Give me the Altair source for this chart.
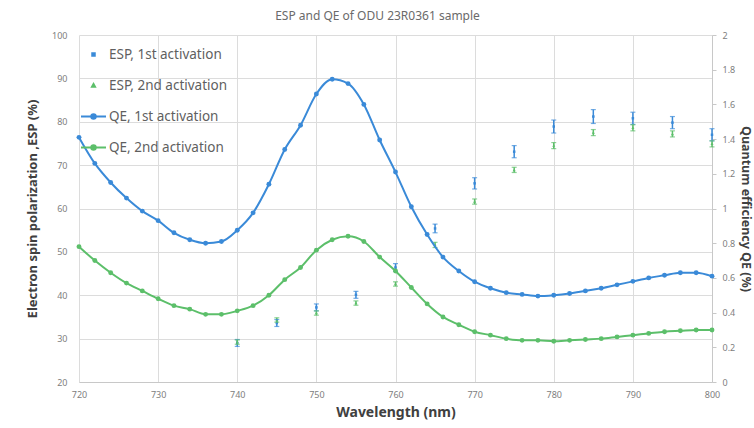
import altair as alt
import pandas as pd

# ---- data ----
qe_wl = [720, 722, 724, 726, 728, 730, 732, 734, 736, 738, 740, 742, 744, 746, 748, 750,
         752, 754, 756, 758, 760, 762, 764, 766, 768, 770, 772, 774, 776, 778, 780, 782,
         784, 786, 788, 790, 792, 794, 796, 798, 800]
qe_1st = [1.41, 1.26, 1.15, 1.06, 0.985, 0.93, 0.86, 0.82, 0.80, 0.81, 0.875, 0.975, 1.14,
          1.34, 1.48, 1.66, 1.745, 1.72, 1.60, 1.395, 1.21, 1.01, 0.85, 0.72, 0.64, 0.578,
          0.54, 0.515, 0.505, 0.495, 0.50, 0.51, 0.525, 0.54, 0.56, 0.58, 0.60, 0.615, 0.63,
          0.63, 0.61]
qe_2nd = [0.78, 0.70, 0.63, 0.57, 0.525, 0.48, 0.44, 0.42, 0.39, 0.39, 0.41, 0.44, 0.50,
          0.59, 0.66, 0.76, 0.82, 0.84, 0.81, 0.72, 0.64, 0.545, 0.45, 0.375, 0.33, 0.29,
          0.27, 0.25, 0.24, 0.24, 0.235, 0.24, 0.245, 0.25, 0.26, 0.27, 0.28, 0.29, 0.295,
          0.30, 0.30]

esp_wl = [740, 745, 750, 755, 760, 765, 770, 775, 780, 785, 790, 795, 800]
esp_1st = [29.0, 33.6, 37.2, 40.1, 46.4, 55.4, 65.8, 73.1, 78.9, 81.2, 80.8, 79.8, 77.0]
esp_1st_err = [0.8, 0.8, 0.8, 0.8, 0.9, 1.0, 1.3, 1.4, 1.5, 1.6, 1.4, 1.4, 1.4]
esp_2nd = [29.2, 34.3, 35.9, 38.2, 42.6, 51.6, 61.6, 68.9, 74.5, 77.5, 78.6, 77.2, 74.9]
esp_2nd_err = [0.5, 0.5, 0.5, 0.5, 0.5, 0.6, 0.6, 0.6, 0.7, 0.7, 0.7, 0.7, 0.7]

x_ticks = [720, 730, 740, 750, 760, 770, 780, 790, 800]
esp_ticks = [20, 30, 40, 50, 60, 70, 80, 90, 100]
qe_ticks = [0, 0.2, 0.4, 0.6, 0.8, 1, 1.2, 1.4, 1.6, 1.8, 2]

series = ["ESP, 1st activation", "ESP, 2nd activation", "QE, 1st activation", "QE, 2nd activation"]
BLUE = "#3a8ad8"
GREEN = "#5cbf6a"
colors = [BLUE, GREEN, BLUE, GREEN]
shapes = [
    "M-0.1,-0.1H0.1V0.1H-0.1Z",
    "M0,-0.12L0.12,0.1H-0.12Z",
    "M-1,0H1M-0.18,0A0.18,0.18,0,1,1,0.18,0A0.18,0.18,0,1,1,-0.18,0Z",
    "M-1,0H1M-0.18,0A0.18,0.18,0,1,1,0.18,0A0.18,0.18,0,1,1,-0.18,0Z",
]

qe_df = pd.DataFrame({
    "wl": qe_wl * 2,
    "qe": qe_1st + qe_2nd,
    "series": [series[2]] * len(qe_wl) + [series[3]] * len(qe_wl),
})
esp_df = pd.DataFrame({
    "wl": esp_wl * 2,
    "esp": esp_1st + esp_2nd,
    "lo": [v - e for v, e in zip(esp_1st, esp_1st_err)] + [v - e for v, e in zip(esp_2nd, esp_2nd_err)],
    "hi": [v + e for v, e in zip(esp_1st, esp_1st_err)] + [v + e for v, e in zip(esp_2nd, esp_2nd_err)],
    "series": [series[0]] * len(esp_wl) + [series[1]] * len(esp_wl),
})

x_scale = alt.Scale(domain=[720, 800], nice=False)
x_axis = alt.Axis(values=x_ticks, grid=True, ticks=False, labelPadding=8, labelFlush=False,
                  labelOverlap=False, titlePadding=6, titleFontSize=14)
x_enc = alt.X("wl:Q", title="Wavelength (nm)", scale=x_scale, axis=x_axis)

color_scale = alt.Scale(domain=series, range=colors)
shape_scale = alt.Scale(domain=series, range=shapes)

legend = alt.Legend(title=None, orient="none", legendX=1, legendY=6, padding=0,
                    symbolSize=625, symbolStrokeWidth=2, rowPadding=11,
                    labelFontSize=13.5, labelColor="#5f5f5f", labelFont="Noto Sans",
                    labelOffset=2, symbolOpacity=1)

esp_scale = alt.Scale(domain=[20, 100], nice=False)
esp_axis = alt.Axis(values=esp_ticks, grid=True, ticks=False, domain=False,
                    labelPadding=12, titlePadding=12, labelOverlap=False,
                    labelFlush=False, format="d", titleFontSize=13)
ESP_TITLE = "Electron spin polarization ,ESP (%)"


def esp_y(field):
    return alt.Y(f"{field}:Q", title=ESP_TITLE, scale=esp_scale, axis=esp_axis)


col_nolegend = alt.Color("series:N", scale=color_scale, legend=None)

esp_rules = alt.Chart(esp_df).mark_rule(strokeWidth=1.5).encode(
    x=x_enc, y=esp_y("lo"), y2="hi:Q", color=col_nolegend)
esp_caps_lo = alt.Chart(esp_df).mark_tick(thickness=1.2, size=5, orient="horizontal").encode(
    x=x_enc, y=esp_y("lo"), color=col_nolegend)
esp_caps_hi = alt.Chart(esp_df).mark_tick(thickness=1.2, size=5, orient="horizontal").encode(
    x=x_enc, y=esp_y("hi"), color=col_nolegend)
esp_points = alt.Chart(esp_df).mark_point(filled=True, size=625, opacity=1).encode(
    x=x_enc, y=esp_y("esp"),
    color=alt.Color("series:N", scale=color_scale, legend=legend),
    shape=alt.Shape("series:N", scale=shape_scale, legend=legend))

esp_layer = alt.layer(esp_points, esp_rules, esp_caps_lo, esp_caps_hi)

qe_scale = alt.Scale(domain=[0, 2], nice=False)
qe_axis = alt.Axis(orient="right", values=qe_ticks, grid=False, ticks=True, tickSize=4,
                   domain=True, labelOverlap=False, labelFlush=False, format="~g",
                   labelPadding=6, titlePadding=4, titleFontSize=12.5)
y_qe = alt.Y("qe:Q", title="Quantum efficiency QE (%)", scale=qe_scale, axis=qe_axis)

qe_line = alt.Chart(qe_df).mark_line(strokeWidth=2, interpolate="monotone").encode(
    x=x_enc, y=y_qe, color=col_nolegend)
qe_pts = alt.Chart(qe_df).mark_circle(size=24, opacity=1).encode(
    x=x_enc, y=y_qe, color=col_nolegend)
qe_layer = alt.layer(qe_line, qe_pts)

chart = alt.layer(esp_layer, qe_layer).resolve_scale(y="independent").properties(
    width=633, height=347,
    title=alt.TitleParams("ESP and QE of ODU 23R0361 sample", fontSize=12,
                          fontWeight="normal", color="#6a6a6a", font="Noto Sans",
                          offset=8, dx=-18),
    autosize=alt.AutoSizeParams(type="none"),
    padding={"left": 79, "top": 35, "right": 42, "bottom": 46},
    background="white",
).configure_view(stroke=None).configure_axis(
    gridColor="#dcdcdc", gridWidth=1,
    domainColor="#c8c8c8", tickColor="#c8c8c8",
    labelFontSize=9, labelColor="#808080", labelFont="Noto Sans",
    titleFont="Noto Sans", titleFontWeight="bold", titleColor="#404040",
)

chart.save("out.html", embed_options={"renderer": "svg", "actions": False})
